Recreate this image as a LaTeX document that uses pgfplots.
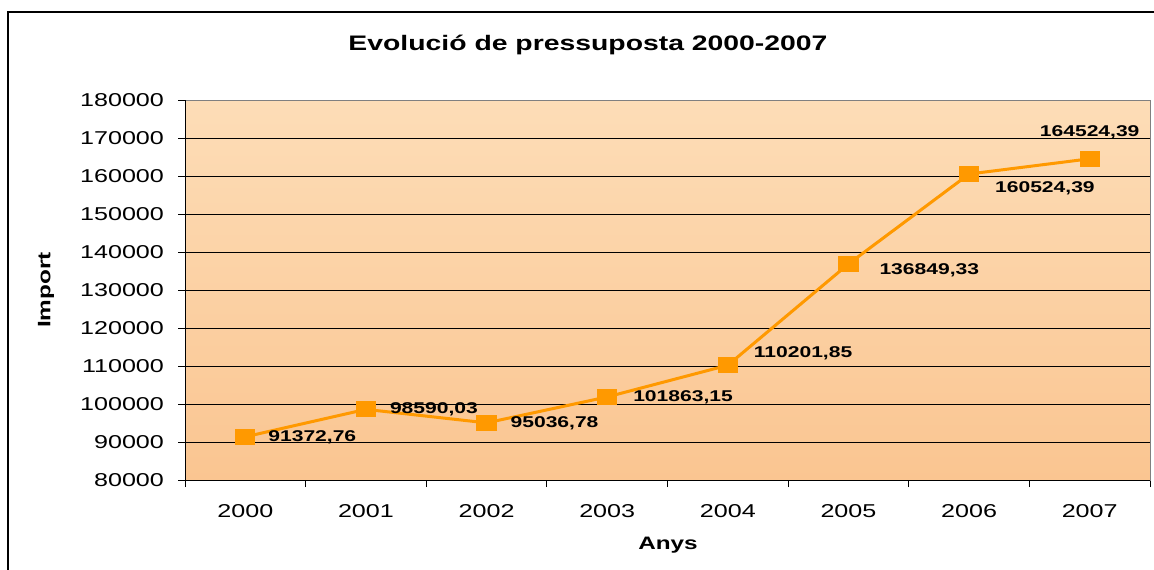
\documentclass[border=0pt]{standalone}
\usepackage{pgfplots}
\pgfplotsset{compat=1.18}
\usepackage{fontspec}
\setmainfont{Liberation Sans}[FakeStretch=1.35]

\definecolor{linecol}{RGB}{255,153,0}
\definecolor{bgtop}{RGB}{253,221,183}
\definecolor{bgbot}{RGB}{250,197,145}

\begin{document}
\begin{tikzpicture}
\useasboundingbox (0,0) rectangle (577pt,284.5pt);
\draw[line width=1pt] (4pt,-10pt) -- (4pt,278.5pt) -- (600pt,278.5pt);
\node[font=\bfseries\fontsize{10.5}{12}\selectfont] at (294pt,262pt) {Evolució de pressuposta 2000-2007};
\node[font=\bfseries\fontsize{9}{10}\selectfont] at (334pt,12pt) {Anys};
\node[font=\bfseries\fontsize{9}{10}\selectfont, rotate=90] at (23pt,139.5pt) {Import};
\begin{axis}[
    at={(92.5pt,44.5pt)}, anchor=south west,
    scale only axis,
    width=482.5pt, height=190pt,
    xmin=-0.5, xmax=7.5,
    ymin=80000, ymax=180000,
    ytick={80000,90000,...,180000},
    scaled y ticks=false,
    yticklabel={\pgfmathprintnumber[fixed,precision=0,1000 sep={}]{\tick}},
    xtick={0,...,7},
    xticklabels={2000,2001,2002,2003,2004,2005,2006,2007},
    minor xtick={-0.5,0.5,...,7.5},
    major x tick style={draw=none},
    xtick pos=bottom, ytick pos=left,
    tick align=outside,
    major tick length=3.5pt, minor tick length=3.5pt,
    tick style={black, thin},
    ymajorgrids,
    grid style={black, thin},
    axis line style={gray},
    axis background/.style={top color=bgtop, bottom color=bgbot},
    /pgf/number format/assume math mode=true,
    ticklabel style={font=\fontsize{9.3}{10}\selectfont},
    xticklabel style={yshift=-5pt},
    yticklabel style={xshift=-3.5pt},
    clip=false,
]
\addplot[color=linecol, line width=1.5pt, mark=square*, mark size=3.3pt,
    mark options={xscale=1.3, fill=linecol, draw=linecol}]
    coordinates {(0,91372.76) (1,98590.03) (2,95036.78) (3,101863.15)
                 (4,110201.85) (5,136849.33) (6,160524.39) (7,164524.39)};
\draw[black] (rel axis cs:0,0) -- (rel axis cs:0,1);
\draw[black] (rel axis cs:0,0) -- (rel axis cs:1,0);
\begin{scope}[every node/.style={font=\bfseries\fontsize{7.8}{9}\selectfont}]
\node[anchor=west, xshift=8pt] at (axis cs:0,91372.76) {91372,76};
\node[anchor=west, xshift=8.5pt] at (axis cs:1,98590.03) {98590,03};
\node[anchor=west, xshift=8.5pt] at (axis cs:2,95036.78) {95036,78};
\node[anchor=west, xshift=9.5pt] at (axis cs:3,101863.15) {101863,15};
\node[anchor=west, xshift=9.5pt, yshift=6pt] at (axis cs:4,110201.85) {110201,85};
\node[anchor=west, xshift=12pt, yshift=-3pt] at (axis cs:5,136849.33) {136849,33};
\node[anchor=west, xshift=9.5pt, yshift=-7pt] at (axis cs:6,160524.39) {160524,39};
\node[yshift=13.5pt] at (axis cs:7,164524.39) {164524,39};
\end{scope}
\end{axis}
\end{tikzpicture}
\end{document}
